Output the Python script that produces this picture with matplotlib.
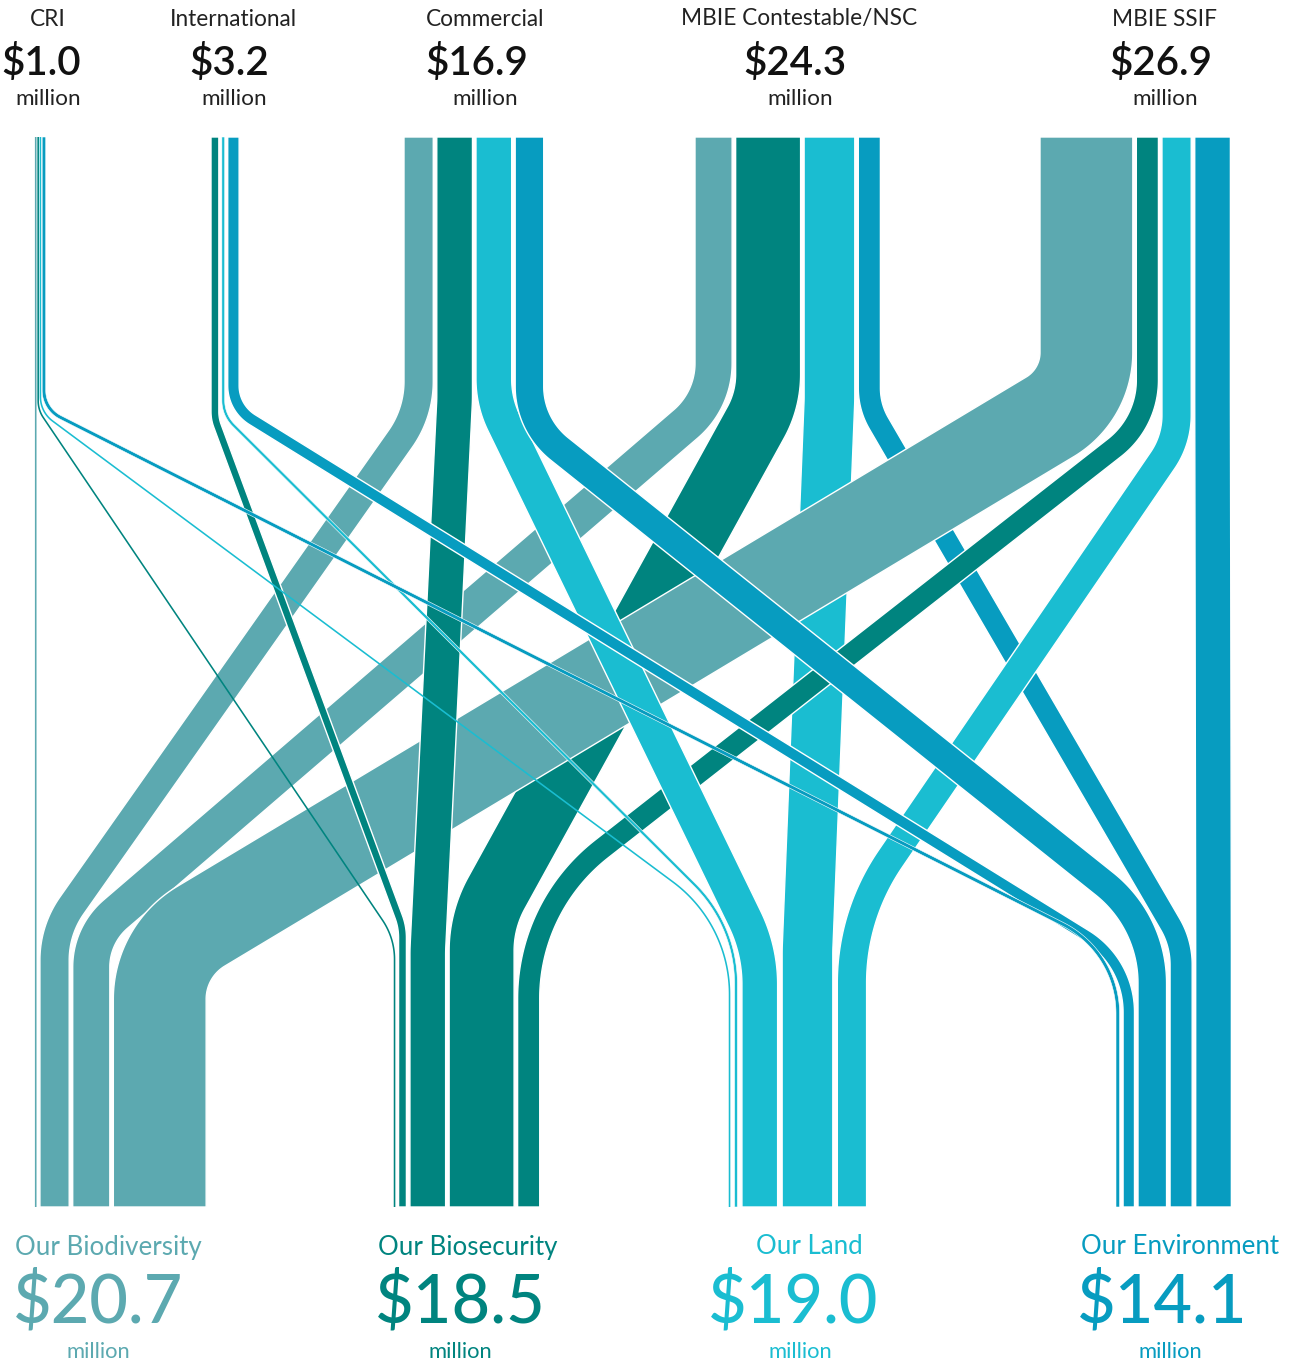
import numpy as np
import matplotlib
matplotlib.use("Agg")
import matplotlib.pyplot as plt

# ── data ($ million) ─────────────────────────────────────────────────────────
SOURCES = ["CRI", "International", "Commercial", "MBIE Contestable/NSC", "MBIE SSIF"]
SOURCE_TOTALS = [1.0, 3.2, 16.9, 24.3, 26.9]
TARGETS = ["Our Biodiversity", "Our Biosecurity", "Our Land", "Our Environment"]
TARGET_TOTALS = [20.7, 18.5, 19.0, 14.1]

FLOW_CRI = [0.2, 0.15, 0.15, 0.5]
FLOW_INT = [0.0, 1.1, 0.4, 1.6]
FLOW_COM = [4.1, 5.0, 5.0, 4.0]
FLOW_CON = [5.2, 9.1, 7.1, 3.1]
FLOW_SSIF = [13.0, 3.1, 4.1, 5.0]
FLOWS = np.array([FLOW_CRI, FLOW_INT, FLOW_COM, FLOW_CON, FLOW_SSIF])

# ── layout (pixels) ──────────────────────────────────────────────────────────
W, H = 1291, 1365
TOP, BOT = 137, 1207
PX_PER_M = 7.14
SRC_X0 = [35, 211, 404, 695, 1040]
SRC_GAP = [1.2, 3.0, 3.5, 3.5, 3.5]
DST_X0 = [35, 394, 729, 1116]
DST_GAP = [3.5, 3.5, 4.5, 3.5]
COLORS = ["#5ca9b0", "#00847f", "#1abdd1", "#079cc0"]

# per flow: (corner y at top, radius, corner y at bottom, radius)
BENDS = {
    (0, 0): (400, 0, 950, 0),
    (0, 1): (410, 30, 938, 70),
    (0, 2): (412, 30, 924, 140),
    (0, 3): (409, 30, 952, 100),
    (1, 1): (419, 40, 927, 60),
    (1, 2): (415, 35, 926, 140),
    (1, 3): (408, 40, 962, 90),
    (2, 0): (413, 100, 930, 95),
    (2, 1): (400, 200, 950, 200),
    (2, 2): (402, 100, 950, 150),
    (2, 3): (425, 80, 922, 127),
    (3, 0): (400, 80, 935, 70),
    (3, 1): (400, 100, 920, 120),
    (3, 2): (400, 200, 950, 200),
    (3, 3): (407, 70, 943, 80),
    (4, 0): (395, 75, 951, 85),
    (4, 1): (422, 86, 906, 190),
    (4, 2): (440, 80, 915, 220),
    (4, 3): (400, 0, 950, 0),
}
DRAW_ORDER = [3, 4, 2, 1, 0]  # sources, bottom layer first


def stack(x0, gap, widths):
    lefts, x = [], x0
    for w in widths:
        lefts.append(x)
        if w > 0:
            x += w + gap
    return lefts


def centerline(xt, xb, w, bend):
    y1, r1, y2, r2 = bend
    p = [np.array([xt, TOP], float), np.array([xt, y1], float),
         np.array([xb, y2], float), np.array([xb, BOT], float)]
    pts = [p[0]]
    for i, r in ((1, r1), (2, r2)):
        a, b, c = p[i - 1], p[i], p[i + 1]
        d_in = (b - a) / np.linalg.norm(b - a)
        d_out = (c - b) / np.linalg.norm(c - b)
        cosang = np.clip(d_in @ d_out, -1, 1)
        phi = np.arccos(cosang)
        if phi < 2e-3 or r <= 0:
            pts.append(b)
            continue
        r = max(r, w / 2 + 8)
        t = r * np.tan(phi / 2)
        t = min(t, 0.45 * np.linalg.norm(b - a), 0.45 * np.linalg.norm(c - b))
        r = t / np.tan(phi / 2)
        ta, tb = b - d_in * t, b + d_out * t
        n = d_out - cosang * d_in
        n /= np.linalg.norm(n)
        ctr = ta + n * r
        a0 = np.arctan2(ta[1] - ctr[1], ta[0] - ctr[0])
        a1 = np.arctan2(tb[1] - ctr[1], tb[0] - ctr[0])
        da = (a1 - a0 + np.pi) % (2 * np.pi) - np.pi
        th = a0 + da * np.linspace(0, 1, 60)
        pts.extend(ctr + r * np.column_stack([np.cos(th), np.sin(th)]))
    pts.append(p[3])
    pts = np.array(pts)
    # resample evenly so the normals are smooth
    seg = np.hypot(*np.diff(pts, axis=0).T)
    pts = pts[np.r_[True, seg > 1e-6]]
    s = np.r_[0, np.cumsum(np.hypot(*np.diff(pts, axis=0).T))]
    ss = np.linspace(0, s[-1], int(s[-1] / 1.5) + 2)
    return np.column_stack([np.interp(ss, s, pts[:, 0]), np.interp(ss, s, pts[:, 1])])


def ribbon(ax, xt, xb, w, bend, color, z):
    c = centerline(xt, xb, w, bend)
    tg = np.gradient(c, axis=0)
    tg /= np.hypot(tg[:, 0], tg[:, 1])[:, None]
    nrm = np.column_stack([-tg[:, 1], tg[:, 0]])
    half = max(w, 1.6) / 2
    poly = np.vstack([c + nrm * half, (c - nrm * half)[::-1]])
    lw = 1.0 if w > 6 else (0.4 if w > 2.5 else 0.0)
    ax.fill(poly[:, 0], poly[:, 1], facecolor=color, edgecolor="white",
            linewidth=lw, joinstyle="round", zorder=z)


fig = plt.figure(figsize=(W / 100, H / 100), dpi=100)
ax = fig.add_axes([0, 0, 1, 1])
ax.set_xlim(0, W)
ax.set_ylim(H, 0)
ax.axis("off")

widths = FLOWS * PX_PER_M
src_left = [stack(SRC_X0[i], SRC_GAP[i], widths[i]) for i in range(len(SOURCES))]
dst_left = [stack(DST_X0[j], DST_GAP[j], widths[:, j]) for j in range(len(TARGETS))]

for z, i in enumerate(DRAW_ORDER):
    for j in range(len(TARGETS)):
        w = widths[i, j]
        if w <= 0:
            continue
        xt = src_left[i][j] + w / 2
        xb = dst_left[j][i] + w / 2
        ribbon(ax, xt, xb, w, BENDS[(i, j)], COLORS[j], 2 + z)

# ── labels ───────────────────────────────────────────────────────────────────
FONT = ["Lato", "DejaVu Sans"]

SRC_NAME_X = [48, 233, 485, 799, 1164]
SRC_AMT_X = [41, 229, 477, 795, 1161]
SRC_MIL_X = [48, 234, 485, 800, 1165]
for i, name in enumerate(SOURCES):
    ax.text(SRC_NAME_X[i], 19, name, ha="center", va="center", fontsize=16.3,
            family=FONT, color="#222222")
    ax.text(SRC_AMT_X[i], 63, "${:.1f}".format(SOURCE_TOTALS[i]), ha="center",
            va="center", fontsize=29, fontweight="semibold", family=FONT,
            color="#111111")
    ax.text(SRC_MIL_X[i], 99, "million", ha="center", va="center", fontsize=16.2,
            family=FONT, color="#222222")

DST_NAME_X = [108, 468, 809, 1180]
DST_AMT_X = [98, 460, 793, 1162]
DST_MIL_X = [98, 460, 800, 1170]
for j, name in enumerate(TARGETS):
    ax.text(DST_NAME_X[j], 1247, name, ha="center", va="center", fontsize=18.6,
            family=FONT, color=COLORS[j])
    ax.text(DST_AMT_X[j], 1303, "${:.1f}".format(TARGET_TOTALS[j]), ha="center",
            va="center", fontsize=48, fontweight="medium", family=FONT,
            color=COLORS[j])
    ax.text(DST_MIL_X[j], 1352, "million", ha="center", va="center", fontsize=15.8,
            family=FONT, color=COLORS[j])

fig.savefig("out.png", dpi=100)
plt.close(fig)
